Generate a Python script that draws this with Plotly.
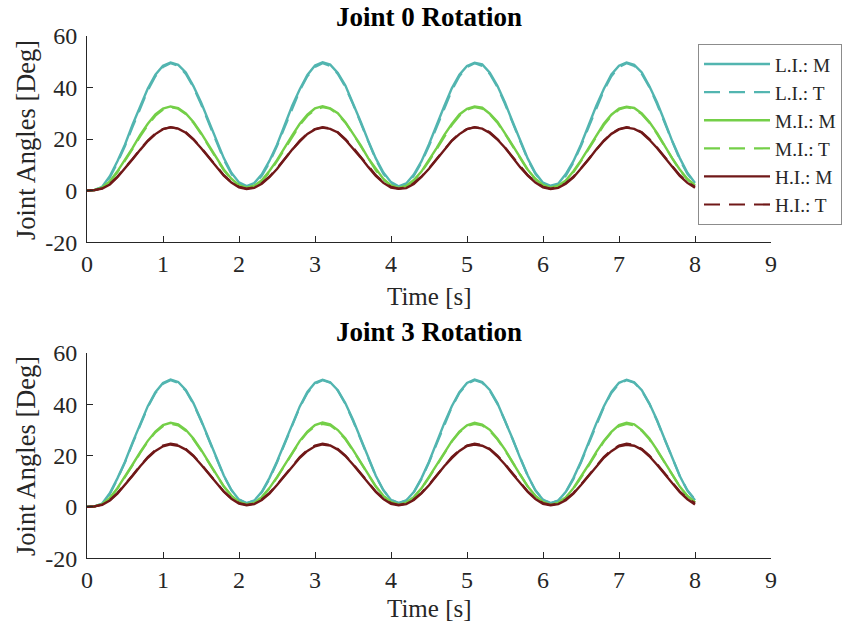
import plotly.graph_objects as go

# Time base (s), sampled every 0.1 s from 0 to 8
time_s = [round(i * 0.1, 1) for i in range(81)]

# Target trajectories (same commanded profile for both joints)
li_target = [0.0, 0.2, 1.2, 5.0, 10.8, 17.3, 24.7, 32.1, 38.8, 44.3, 47.9, 49.3, 48.3, 45.2, 40.1, 33.5, 26.2, 18.8, 12.0, 6.5,
             2.9, 1.5, 2.5, 5.7, 10.8, 17.3, 24.7, 32.1, 38.8, 44.3, 47.9, 49.3, 48.3, 45.2, 40.1, 33.5, 26.2, 18.8, 12.0, 6.5,
             2.9, 1.5, 2.5, 5.7, 10.8, 17.3, 24.7, 32.1, 38.8, 44.3, 47.9, 49.3, 48.3, 45.2, 40.1, 33.5, 26.2, 18.8, 12.0, 6.5,
             2.9, 1.5, 2.5, 5.7, 10.8, 17.3, 24.7, 32.1, 38.8, 44.3, 47.9, 49.3, 48.3, 45.2, 40.1, 33.5, 26.2, 18.8, 12.0, 6.5,
             2.9]
mi_target = [0.0, 0.2, 1.0, 3.3, 7.1, 11.4, 16.2, 21.0, 25.4, 29.0, 31.4, 32.3, 31.7, 29.6, 26.3, 22.0, 17.2, 12.3, 7.9, 4.3,
             1.9, 1.0, 1.6, 3.7, 7.1, 11.4, 16.2, 21.0, 25.4, 29.0, 31.4, 32.3, 31.7, 29.6, 26.3, 22.0, 17.2, 12.3, 7.9, 4.3,
             1.9, 1.0, 1.6, 3.7, 7.1, 11.4, 16.2, 21.0, 25.4, 29.0, 31.4, 32.3, 31.7, 29.6, 26.3, 22.0, 17.2, 12.3, 7.9, 4.3,
             1.9, 1.0, 1.6, 3.7, 7.1, 11.4, 16.2, 21.0, 25.4, 29.0, 31.4, 32.3, 31.7, 29.6, 26.3, 22.0, 17.2, 12.3, 7.9, 4.3,
             1.9]
hi_target = [0.0, 0.2, 0.9, 2.6, 5.4, 8.7, 12.3, 16.0, 19.4, 22.1, 23.9, 24.6, 24.1, 22.6, 20.0, 16.7, 13.1, 9.4, 6.0, 3.3,
             1.5, 0.8, 1.3, 2.9, 5.4, 8.7, 12.3, 16.0, 19.4, 22.1, 23.9, 24.6, 24.1, 22.6, 20.0, 16.7, 13.1, 9.4, 6.0, 3.3,
             1.5, 0.8, 1.3, 2.9, 5.4, 8.7, 12.3, 16.0, 19.4, 22.1, 23.9, 24.6, 24.1, 22.6, 20.0, 16.7, 13.1, 9.4, 6.0, 3.3,
             1.5, 0.8, 1.3, 2.9, 5.4, 8.7, 12.3, 16.0, 19.4, 22.1, 23.9, 24.6, 24.1, 22.6, 20.0, 16.7, 13.1, 9.4, 6.0, 3.3,
             1.5]

# Measured angles, joint 0
j0_li_meas = [0.0, 0.3, 1.5, 5.6, 11.4, 17.9, 25.6, 32.8, 39.5, 44.9, 48.4, 49.6, 48.7, 45.8, 40.5, 34.2, 26.9, 19.4, 12.6, 6.9,
              3.2, 1.8, 2.9, 6.3, 11.5, 17.8, 25.4, 32.9, 39.3, 44.8, 48.5, 49.7, 48.8, 45.6, 40.7, 34.0, 26.8, 19.3, 12.5, 7.0,
              3.3, 1.7, 2.8, 6.2, 11.3, 18.0, 25.5, 32.7, 39.6, 44.9, 48.3, 49.5, 48.9, 45.7, 40.6, 34.1, 26.7, 19.5, 12.4, 6.8,
              3.1, 1.9, 2.7, 6.4, 11.4, 17.9, 25.3, 32.8, 39.4, 45.0, 48.4, 49.6, 48.7, 45.8, 40.4, 34.2, 26.9, 19.2, 12.6, 6.9,
              3.0]
j0_mi_meas = [0.0, 0.3, 1.2, 3.6, 7.5, 11.9, 16.6, 21.6, 25.9, 29.5, 31.8, 32.6, 32.0, 29.9, 26.6, 22.4, 17.5, 12.7, 8.2, 4.6,
              2.1, 1.2, 1.9, 4.0, 7.6, 11.8, 16.7, 21.4, 25.9, 29.4, 31.9, 32.7, 31.9, 30.0, 26.5, 22.3, 17.6, 12.6, 8.3, 4.5,
              2.0, 1.1, 1.8, 4.1, 7.4, 11.9, 16.5, 21.5, 25.8, 29.5, 31.7, 32.6, 32.1, 29.8, 26.7, 22.2, 17.5, 12.7, 8.1, 4.6,
              2.2, 1.2, 1.9, 3.9, 7.5, 11.7, 16.6, 21.5, 25.9, 29.4, 31.8, 32.5, 32.0, 29.9, 26.6, 22.4, 17.4, 12.5, 8.2, 4.5,
              2.1]
j0_hi_meas = [0.0, 0.2, 0.8, 2.4, 5.2, 8.5, 12.2, 15.8, 19.2, 21.9, 23.8, 24.5, 24.0, 22.4, 19.8, 16.5, 12.8, 9.1, 5.8, 3.1,
              1.3, 0.6, 1.1, 2.7, 5.2, 8.4, 12.1, 15.9, 19.1, 22.0, 23.7, 24.4, 23.9, 22.5, 19.7, 16.4, 12.9, 9.2, 5.7, 3.0,
              1.2, 0.7, 1.0, 2.6, 5.3, 8.5, 12.0, 15.8, 19.3, 21.9, 23.8, 24.5, 24.0, 22.3, 19.8, 16.6, 12.8, 9.1, 5.8, 3.1,
              1.3, 0.6, 1.1, 2.7, 5.1, 8.4, 12.1, 15.9, 19.2, 22.0, 23.7, 24.4, 23.9, 22.4, 19.7, 16.5, 12.9, 9.0, 5.7, 3.0,
              1.1]

# Measured angles, joint 3
j3_li_meas = [0.0, 0.2, 1.3, 5.3, 11.1, 17.6, 25.1, 32.5, 39.2, 44.6, 48.2, 49.6, 48.6, 45.5, 40.4, 33.8, 26.5, 19.0, 12.2, 6.6,
              2.8, 1.4, 2.4, 5.9, 11.2, 17.7, 25.0, 32.4, 39.1, 44.7, 48.3, 49.5, 48.5, 45.4, 40.3, 33.9, 26.4, 19.1, 12.1, 6.5,
              2.7, 1.5, 2.5, 5.8, 11.1, 17.6, 25.2, 32.5, 39.2, 44.6, 48.2, 49.6, 48.6, 45.5, 40.4, 33.7, 26.5, 19.0, 12.2, 6.4,
              2.8, 1.4, 2.4, 5.9, 11.2, 17.7, 25.1, 32.4, 39.1, 44.7, 48.3, 49.5, 48.5, 45.4, 40.2, 33.8, 26.4, 18.9, 12.0, 6.3,
              2.6]
j3_mi_meas = [0.0, 0.2, 1.1, 3.5, 7.3, 11.7, 16.5, 21.3, 25.7, 29.3, 31.8, 32.7, 32.1, 30.0, 26.6, 22.3, 17.4, 12.5, 8.0, 4.4,
              1.8, 0.9, 1.5, 3.8, 7.3, 11.6, 16.4, 21.3, 25.7, 29.3, 31.8, 32.8, 32.1, 29.9, 26.6, 22.2, 17.4, 12.4, 8.0, 4.3,
              1.8, 0.9, 1.6, 3.8, 7.2, 11.7, 16.5, 21.2, 25.6, 29.3, 31.7, 32.7, 32.0, 30.0, 26.5, 22.3, 17.3, 12.5, 7.9, 4.3,
              1.8, 0.9, 1.5, 3.7, 7.3, 11.6, 16.4, 21.3, 25.7, 29.2, 31.8, 32.7, 32.1, 29.9, 26.6, 22.2, 17.3, 12.4, 7.9, 4.2,
              1.7]
j3_hi_meas = [0.0, 0.2, 0.8, 2.5, 5.2, 8.5, 12.1, 15.8, 19.1, 21.8, 23.6, 24.3, 23.8, 22.3, 19.8, 16.5, 12.9, 9.3, 5.9, 3.2,
              1.3, 0.6, 1.1, 2.7, 5.2, 8.5, 12.0, 15.7, 19.1, 21.8, 23.6, 24.3, 23.9, 22.3, 19.8, 16.5, 12.9, 9.2, 5.8, 3.1,
              1.2, 0.6, 1.1, 2.7, 5.3, 8.4, 12.1, 15.8, 19.0, 21.8, 23.7, 24.3, 23.8, 22.4, 19.7, 16.5, 12.8, 9.2, 5.8, 3.1,
              1.2, 0.6, 1.1, 2.6, 5.2, 8.5, 12.0, 15.7, 19.1, 21.7, 23.6, 24.2, 23.8, 22.3, 19.7, 16.4, 12.8, 9.1, 5.7, 3.0,
              0.9]

levels = ["L.I.", "M.I.", "H.I."]
level_colors = ["#52B5B0", "#74CF48", "#701818"]
panel_titles = ["Joint 0 Rotation", "Joint 3 Rotation"]
x_ticks = [0, 1, 2, 3, 4, 5, 6, 7, 8, 9]
y_ticks = [-20, 0, 20, 40, 60]
y_tick_text = ["-20", "0", "20", "40", "60"]

targets = [li_target, mi_target, hi_target]
measured = [[j0_li_meas, j0_mi_meas, j0_hi_meas],
            [j3_li_meas, j3_mi_meas, j3_hi_meas]]

FONT = "Liberation Serif, Times New Roman, serif"
AXIS_COLOR = "#262626"
W, H = 848, 631
M_L, M_R = 87, 77

fig = go.Figure()

for p in range(2):
    xa = "x" if p == 0 else "x2"
    ya = "y" if p == 0 else "y2"
    for k in range(3):
        fig.add_trace(go.Scatter(
            x=time_s, y=measured[p][k], mode="lines", xaxis=xa, yaxis=ya,
            name=f"{levels[k]}: M", showlegend=(p == 0),
            line=dict(color=level_colors[k], width=2.4)))
        fig.add_trace(go.Scatter(
            x=time_s, y=targets[k], mode="lines", xaxis=xa, yaxis=ya,
            name=f"{levels[k]}: T", showlegend=(p == 0),
            line=dict(color=level_colors[k], width=2.2, dash="16px,9px")))

x_common = dict(range=[0, 9], tickvals=x_ticks, showline=True, linecolor=AXIS_COLOR,
                linewidth=1, ticks="inside", ticklen=6, tickcolor=AXIS_COLOR,
                showgrid=False, zeroline=False, mirror=False, automargin=False,
                tickfont=dict(family=FONT, size=24, color=AXIS_COLOR),
                ticklabelstandoff=0, domain=[0, 1])
y_common = dict(range=[-20, 60], tickvals=y_ticks, ticktext=y_tick_text, showline=True,
                linecolor=AXIS_COLOR, linewidth=1, ticks="inside", ticklen=6,
                tickcolor=AXIS_COLOR, showgrid=False, zeroline=False, mirror=False,
                automargin=False,
                tickfont=dict(family=FONT, size=24, color=AXIS_COLOR),
                ticklabelstandoff=4)

fig.update_layout(
    width=W, height=H,
    margin=dict(l=M_L, r=M_R, t=0, b=0, autoexpand=False),
    paper_bgcolor="white", plot_bgcolor="white",
    xaxis=dict(**x_common, anchor="y"),
    yaxis=dict(**y_common, domain=[1 - 242.3 / H, 1 - 35.7 / H], anchor="x"),
    xaxis2=dict(**x_common, anchor="y2"),
    yaxis2=dict(**y_common, domain=[1 - 558.3 / H, 1 - 352.7 / H], anchor="x2"),
    legend=dict(x=(698 - M_L) / (W - M_L - M_R), y=1 - 44 / H,
                xanchor="left", yanchor="top",
                bgcolor="white", bordercolor="#8C8C8C", borderwidth=1,
                font=dict(family=FONT, size=19.3, color=AXIS_COLOR),
                itemwidth=66, tracegroupgap=0),
    showlegend=True,
)

# Panel titles and axis labels
title_y = [17, 332]
xlabel_y = [297, 608]
ylabel_y = [140, 456]
for p in range(2):
    fig.add_annotation(text=f"<b>{panel_titles[p]}</b>", xref="paper", yref="paper",
                       x=0.5, y=1 - title_y[p] / H, xanchor="center", yanchor="middle",
                       showarrow=False, font=dict(family=FONT, size=27, color="black"))
    fig.add_annotation(text="Time [s]", xref="paper", yref="paper",
                       x=0.5, y=1 - xlabel_y[p] / H, xanchor="center", yanchor="middle",
                       showarrow=False, font=dict(family=FONT, size=25, color=AXIS_COLOR))
    fig.add_annotation(text="Joint Angles [Deg]", xref="paper", yref="paper",
                       x=(26 - M_L) / (W - M_L - M_R), y=1 - ylabel_y[p] / H,
                       xanchor="center", yanchor="middle", textangle=-90,
                       showarrow=False,
                       font=dict(family=FONT, size=26.5, color=AXIS_COLOR))

fig.write_html("out.html")
